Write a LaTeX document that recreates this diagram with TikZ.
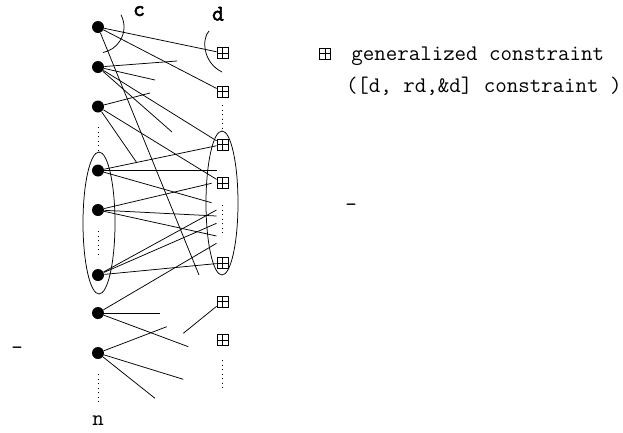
\documentclass[tikz,border=0pt]{standalone}
\usepackage{fontspec}
\newfontfamily\ttbold{lmmono10-regular.otf}[FakeBold=2.5]
\begin{document}
\begin{tikzpicture}[x=1pt,y=-1pt,line width=0.75pt,
  dot/.style={circle,fill,inner sep=0pt,minimum size=12pt},
  cons/.style={draw,rectangle,inner sep=0pt,minimum size=11pt,line width=0.8pt,
    path picture={\draw[line width=0.6pt] (path picture bounding box.north) -- (path picture bounding box.south)
      (path picture bounding box.west) -- (path picture bounding box.east);}},
  dots/.style={line width=0.9pt,dash pattern=on 0.9pt off 3.6pt},
  lbl/.style={font=\ttfamily\fontsize{22.3}{24}\selectfont,inner sep=0pt,anchor=base},
  lblb/.style={font=\ttbold\fontsize{22.3}{24}\selectfont,inner sep=0pt,anchor=base},
]
\useasboundingbox (0,0) rectangle (623,432);
% variables
\node[dot] (B1) at (98,27) {};
\node[dot] (B2) at (98,67) {};
\node[dot] (B3) at (98,106.5) {};
\node[dot] (B4) at (98,170.5) {};
\node[dot] (B5) at (98,210) {};
\node[dot] (B6) at (98,275) {};
\node[dot] (B7) at (98,313) {};
\node[dot] (B8) at (98,353) {};
% constraints
\node[cons] (S1) at (222.5,53) {};
\node[cons] (S2) at (222.5,91.5) {};
\node[cons] (S3) at (222.5,144.5) {};
\node[cons] (S4) at (222.5,183) {};
\node[cons] (S5) at (222.5,263) {};
\node[cons] (S6) at (222.5,301.5) {};
\node[cons] (S7) at (222.5,340) {};
% free ends
\coordinate (e1) at (199,275);
\coordinate (e2) at (177,61);
\coordinate (e3) at (155,80);
\coordinate (e4) at (172,132);
\coordinate (e5) at (150,93);
\coordinate (e6) at (137,163);
\coordinate (e7) at (216.5,170.5);
\coordinate (e8) at (211.5,202.7);
\coordinate (e9) at (211.5,183.3);
\coordinate (e10) at (216.5,216);
\coordinate (e11) at (216.5,236);
\coordinate (e12) at (216.5,210);
\coordinate (e13) at (216.5,223.3);
\coordinate (e14) at (216.5,243.3);
\coordinate (e15) at (160,313);
\coordinate (e16) at (188.3,346.7);
\coordinate (e17) at (183.3,333.3);
\coordinate (e18) at (166.7,326.7);
\coordinate (e19) at (183.3,379.3);
\coordinate (e20) at (155,398.3);
% connectors
\draw (B1) -- (S1);
\draw (B1) -- (S2);
\draw (B1) -- (e1);
\draw (B2) -- (e2);
\draw (B2) -- (e3);
\draw (B2) -- (e4);
\draw (B2) -- (S3);
\draw (B3) -- (e5);
\draw (B3) -- (e6);
\draw (B3) -- (S4);
\draw (B4) -- (S3);
\draw (B4) -- (e7);
\draw (B4) -- (e8);
\draw (B5) -- (e9);
\draw (B5) -- (e10);
\draw (B5) -- (e11);
\draw (B6) -- (e12);
\draw (B6) -- (e13);
\draw (B6) -- (S5);
\draw (B7) -- (e14);
\draw (B7) -- (e15);
\draw (B7) -- (e16);
\draw (e17) -- (S6);
\draw (B8) -- (e18);
\draw (B8) -- (e19);
\draw (B8) -- (e20);
% groups
\draw (99,223) ellipse [x radius=16,y radius=71];
\draw (222,203) ellipse [x radius=16,y radius=72];
% arcs
\draw ([shift={(28:26pt)}]B1.center) arc[start angle=28,end angle=-79,radius=26pt];
\draw (209,31) .. controls (202,38) and (202,62) .. (222,72);
% dotted continuations
\draw[dots] (98,127) -- (98,152);
\draw[dots] (98,231) -- (98,258);
\draw[dots] (98,374) -- (98,402);
\draw[dots] (222.5,105) -- (222.5,128);
\draw[dots] (222.5,205) -- (222.5,233);
\draw[dots] (222.5,360) -- (222.5,388);
% labels
\node[lblb] (lc) at (139,16) {c};
\node[lblb] (ld) at (218,20.5) {d};
\node[lbl] (ln) at (98,425) {n};
\node[lbl] (m1) at (17,354) {–};
\node[lbl] (m2) at (351,211) {–};
% legend
\node[cons] (L) at (325,53.5) {};
\node[lbl,anchor=base west] (g1) at (351,60) {generalized constraint};
\node[lbl,anchor=base east] (g2) at (622,92.5) {([d, rd,\&d] constraint )};
\end{tikzpicture}
\end{document}
